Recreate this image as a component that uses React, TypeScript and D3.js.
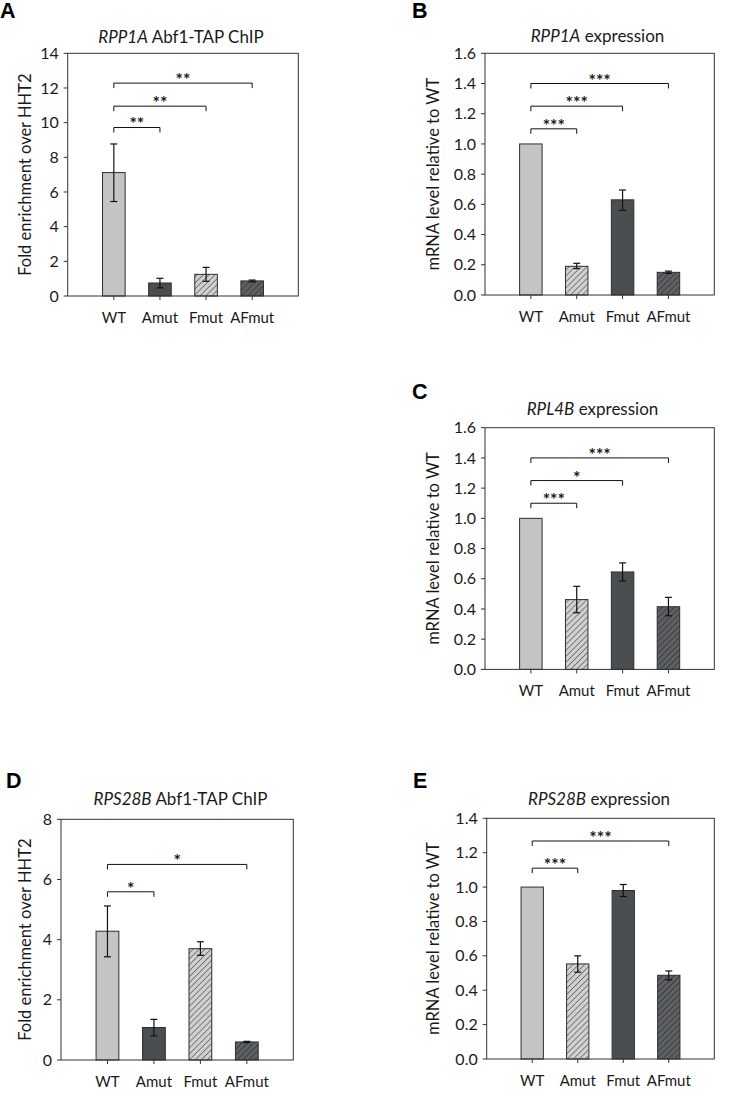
import React from "react";
import * as d3 from "d3";

const categories = ["WT", "Amut", "Fmut", "AFmut"];

// Panel A: RPP1A Abf1-TAP ChIP
const aValues = [7.12, 0.75, 1.25, 0.87];
const aErrLow = [5.45, 0.47, 0.85, 0.82];
const aErrHigh = [8.77, 1.02, 1.65, 0.92];
const aStyles = ["light", "dark", "lightHatch", "darkHatch"];
const aYTicks = [0, 2, 4, 6, 8, 10, 12, 14];
const aBracketTo = ["Amut", "Fmut", "AFmut"];
const aBracketLevel = [9.72, 10.95, 12.28];
const aBracketLabel = ["**", "**", "**"];

// Panel B: RPP1A expression
const bValues = [1.0, 0.19, 0.63, 0.15];
const bErrLow = [1.0, 0.175, 0.56, 0.143];
const bErrHigh = [1.0, 0.21, 0.695, 0.158];
const bStyles = ["light", "lightHatch", "dark", "darkHatch"];
const bYTicks = [0, 0.2, 0.4, 0.6, 0.8, 1.0, 1.2, 1.4, 1.6];
const bBracketTo = ["Amut", "Fmut", "AFmut"];
const bBracketLevel = [1.1, 1.25, 1.4];
const bBracketLabel = ["***", "***", "***"];

// Panel C: RPL4B expression
const cValues = [1.0, 0.462, 0.645, 0.415];
const cErrLow = [1.0, 0.375, 0.585, 0.355];
const cErrHigh = [1.0, 0.55, 0.705, 0.477];
const cStyles = ["light", "lightHatch", "dark", "darkHatch"];
const cYTicks = [0, 0.2, 0.4, 0.6, 0.8, 1.0, 1.2, 1.4, 1.6];
const cBracketTo = ["Amut", "Fmut", "AFmut"];
const cBracketLevel = [1.1, 1.25, 1.4];
const cBracketLabel = ["***", "*", "***"];

// Panel D: RPS28B Abf1-TAP ChIP
const dValues = [4.28, 1.08, 3.7, 0.6];
const dErrLow = [3.43, 0.8, 3.48, 0.58];
const dErrHigh = [5.12, 1.35, 3.93, 0.62];
const dStyles = ["light", "dark", "lightHatch", "darkHatch"];
const dYTicks = [0, 2, 4, 6, 8];
const dBracketTo = ["Amut", "AFmut"];
const dBracketLevel = [5.59, 6.5];
const dBracketLabel = ["*", "*"];

// Panel E: RPS28B expression
const eValues = [1.0, 0.553, 0.98, 0.487];
const eErrLow = [1.0, 0.505, 0.945, 0.46];
const eErrHigh = [1.0, 0.6, 1.015, 0.512];
const eStyles = ["light", "lightHatch", "dark", "darkHatch"];
const eYTicks = [0, 0.2, 0.4, 0.6, 0.8, 1.0, 1.2, 1.4];
const eBracketTo = ["Amut", "AFmut"];
const eBracketLevel = [1.11, 1.268];
const eBracketLabel = ["***", "***"];

const FONT = "Lato, 'Open Sans', sans-serif";
const INK = "#1a1a1a";

const fills: Record<string, string> = {
  light: "#c3c4c6",
  dark: "#4b4e51",
  lightHatch: "url(#hatchLight)",
  darkHatch: "url(#hatchDark)",
};

type PanelCfg = {
  letter: string;
  letterX: number;
  letterY: number;
  titleItalic: string;
  titleRest: string;
  titleX: number;
  titleY: number;
  left: number;
  top: number;
  right: number;
  bottom: number;
  yMax: number;
  yTicks: number[];
  fmt: string;
  yLabel: string;
  yLabelX: number;
  values: number[];
  errLow: number[];
  errHigh: number[];
  styles: string[];
  bracketTo: string[];
  bracketLevel: number[];
  bracketLabel: string[];
};

function Panel({ c }: { c: PanelCfg }) {
  const width = c.right - c.left;
  const height = c.bottom - c.top;
  const x = d3.scalePoint<string>().domain(categories).range([0, width]).padding(1);
  const y = d3.scaleLinear().domain([0, c.yMax]).range([height, 0]);
  const bw = x.step() * 0.49;
  const fmt = d3.format(c.fmt);
  const cap = 3.5;
  return (
    <g>
      <text x={c.letterX} y={c.letterY} fontFamily="'Liberation Sans', Arial, sans-serif" fontWeight="bold" fontSize={21.5} fill="#000">
        {c.letter}
      </text>
      <text x={c.titleX} y={c.titleY} textAnchor="middle" fontFamily={FONT} fontSize={17} fill={INK}>
        <tspan fontStyle="italic">{c.titleItalic}</tspan>
        {" " + c.titleRest}
      </text>
      <text
        transform={`translate(${c.yLabelX},${c.top + height / 2}) rotate(-90)`}
        textAnchor="middle"
        dominantBaseline="middle"
        fontFamily={FONT}
        fontSize={16.5}
        fill={INK}
      >
        {c.yLabel}
      </text>
      <g transform={`translate(${c.left},${c.top})`}>
        {c.yTicks.map((t) => (
          <g key={t} transform={`translate(0,${y(t)})`}>
            <line x1={-4} x2={0} stroke="#333" strokeWidth={1} />
            <text x={-9} dy="0.35em" textAnchor="end" fontFamily={FONT} fontSize={16} fill={INK}>
              {fmt(t)}
            </text>
          </g>
        ))}
        {categories.map((cat) => (
          <g key={cat} transform={`translate(${x(cat)},${height})`}>
            <line y1={0} y2={4} stroke="#333" strokeWidth={1} />
            <text y={27} textAnchor="middle" fontFamily={FONT} fontSize={15} fill={INK}>
              {cat}
            </text>
          </g>
        ))}
        {categories.map((cat, i) => (
          <rect
            key={cat}
            x={(x(cat) as number) - bw / 2}
            y={y(c.values[i])}
            width={bw}
            height={height - y(c.values[i])}
            fill={fills[c.styles[i]]}
            stroke="#2e2e2e"
            strokeWidth={1}
          />
        ))}
        {categories.map((cat, i) => {
          if (c.errHigh[i] - c.errLow[i] < 1e-9) return null;
          const cx = x(cat) as number;
          return (
            <g key={cat} stroke="#111" strokeWidth={1.2}>
              <line x1={cx} x2={cx} y1={y(c.errLow[i])} y2={y(c.errHigh[i])} />
              <line x1={cx - cap} x2={cx + cap} y1={y(c.errLow[i])} y2={y(c.errLow[i])} />
              <line x1={cx - cap} x2={cx + cap} y1={y(c.errHigh[i])} y2={y(c.errHigh[i])} />
            </g>
          );
        })}
        {c.bracketTo.map((to, i) => {
          const x0 = x("WT") as number;
          const x1 = x(to) as number;
          const yy = y(c.bracketLevel[i]);
          return (
            <g key={to}>
              <path d={`M${x0},${yy + 5}V${yy}H${x1}V${yy + 5}`} fill="none" stroke="#111" strokeWidth={1} />
              <text x={(x0 + x1) / 2} y={yy + 3} textAnchor="middle" fontFamily={FONT} fontWeight="bold" fontSize={17.5} fill={INK}>
                {c.bracketLabel[i]}
              </text>
            </g>
          );
        })}
        <rect x={0} y={0} width={width} height={height} fill="none" stroke="#333" strokeWidth={1} />
      </g>
    </g>
  );
}

const panels: PanelCfg[] = [
  {
    letter: "A", letterX: 0, letterY: 18,
    titleItalic: "RPP1A", titleRest: "Abf1-TAP ChIP", titleX: 181, titleY: 43,
    left: 67.7, top: 53.3, right: 298.3, bottom: 296,
    yMax: 14, yTicks: aYTicks, fmt: "d",
    yLabel: "Fold enrichment over HHT2", yLabelX: 27,
    values: aValues, errLow: aErrLow, errHigh: aErrHigh, styles: aStyles,
    bracketTo: aBracketTo, bracketLevel: aBracketLevel, bracketLabel: aBracketLabel,
  },
  {
    letter: "B", letterX: 412, letterY: 18,
    titleItalic: "RPP1A", titleRest: "expression", titleX: 597.5, titleY: 42,
    left: 485, top: 53.3, right: 714.3, bottom: 295,
    yMax: 1.6, yTicks: bYTicks, fmt: ".1f",
    yLabel: "mRNA level relative to WT", yLabelX: 435,
    values: bValues, errLow: bErrLow, errHigh: bErrHigh, styles: bStyles,
    bracketTo: bBracketTo, bracketLevel: bBracketLevel, bracketLabel: bBracketLabel,
  },
  {
    letter: "C", letterX: 412, letterY: 398.5,
    titleItalic: "RPL4B", titleRest: "expression", titleX: 592.5, titleY: 415,
    left: 485, top: 427.7, right: 714.3, bottom: 669.4,
    yMax: 1.6, yTicks: cYTicks, fmt: ".1f",
    yLabel: "mRNA level relative to WT", yLabelX: 435,
    values: cValues, errLow: cErrLow, errHigh: cErrHigh, styles: cStyles,
    bracketTo: cBracketTo, bracketLevel: cBracketLevel, bracketLabel: cBracketLabel,
  },
  {
    letter: "D", letterX: 6, letterY: 788,
    titleItalic: "RPS28B", titleRest: "Abf1-TAP ChIP", titleX: 180.5, titleY: 805,
    left: 61, top: 819.3, right: 293.3, bottom: 1060,
    yMax: 8, yTicks: dYTicks, fmt: "d",
    yLabel: "Fold enrichment over HHT2", yLabelX: 26.7,
    values: dValues, errLow: dErrLow, errHigh: dErrHigh, styles: dStyles,
    bracketTo: dBracketTo, bracketLevel: dBracketLevel, bracketLabel: dBracketLabel,
  },
  {
    letter: "E", letterX: 413, letterY: 788,
    titleItalic: "RPS28B", titleRest: "expression", titleX: 599, titleY: 805,
    left: 486.7, top: 818.3, right: 714.3, bottom: 1059,
    yMax: 1.4, yTicks: eYTicks, fmt: ".1f",
    yLabel: "mRNA level relative to WT", yLabelX: 435,
    values: eValues, errLow: eErrLow, errHigh: eErrHigh, styles: eStyles,
    bracketTo: eBracketTo, bracketLevel: eBracketLevel, bracketLabel: eBracketLabel,
  },
];

export default function App() {
  return (
    <svg
      width={734}
      height={1102}
      viewBox="0 0 734 1102"
      style={{ position: "absolute", left: 0, top: 0, background: "#fff" }}
    >
      <defs>
        <pattern id="hatchLight" patternUnits="userSpaceOnUse" width={4.2} height={4.2} patternTransform="rotate(45)">
          <rect width={4.2} height={4.2} fill="#cfd0d2" />
          <line x1={0} y1={0} x2={0} y2={4.2} stroke="#3a3a3a" strokeWidth={1.1} />
        </pattern>
        <pattern id="hatchDark" patternUnits="userSpaceOnUse" width={4.2} height={4.2} patternTransform="rotate(45)">
          <rect width={4.2} height={4.2} fill="#5e6164" />
          <line x1={0} y1={0} x2={0} y2={4.2} stroke="#222" strokeWidth={1.1} />
        </pattern>
      </defs>
      <rect width={734} height={1102} fill="#fff" />
      {panels.map((p) => (
        <Panel key={p.letter} c={p} />
      ))}
    </svg>
  );
}
